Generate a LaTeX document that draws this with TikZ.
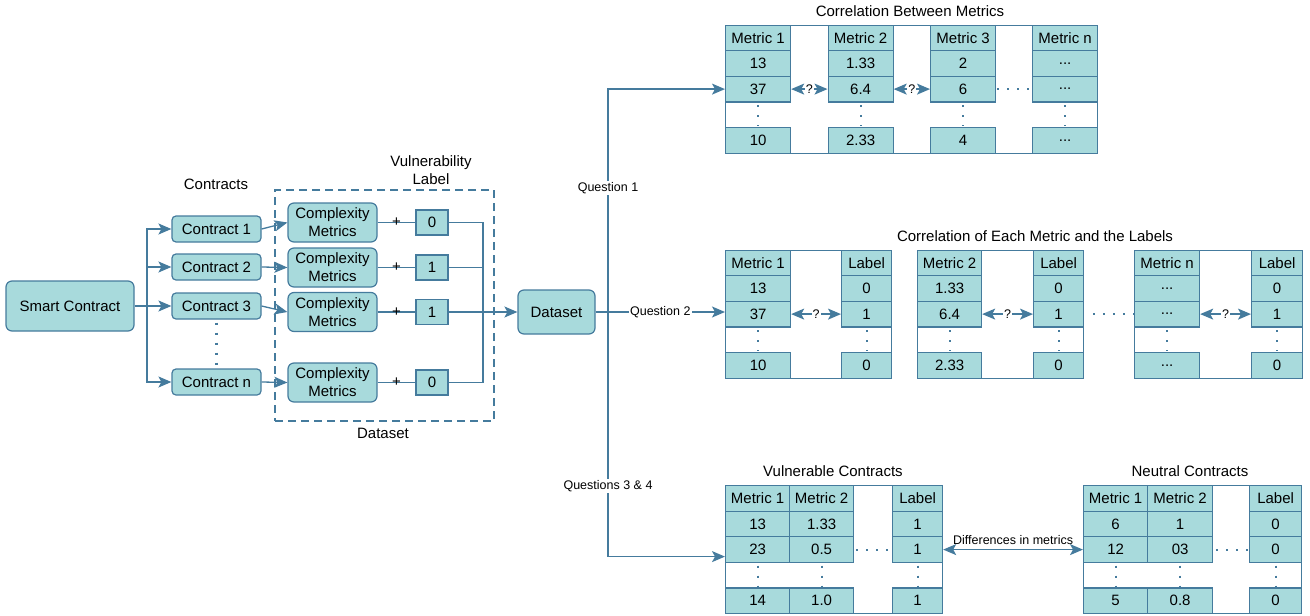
\documentclass[tikz,border=0pt]{standalone}
\usepackage{fontspec}
\setmainfont{Liberation Sans}
\usetikzlibrary{arrows.meta,calc}
\definecolor{fillc}{HTML}{A8DADC}
\definecolor{strokec}{HTML}{457B9D}
\newcommand{\mainfs}{\fontsize{15}{18}\selectfont}
\newcommand{\smallfs}{\fontsize{12.5}{15}\selectfont}
\tikzset{
 tip/.tip={Stealth[length=13pt,width=11pt,inset=3pt]},
 box/.style={draw=strokec, fill=fillc, line width=1.2pt, rounded corners=6pt, inner sep=0pt, font=\mainfs, align=center},
 cell/.style={draw=strokec, fill=fillc, line width=1.2pt, inner sep=0pt, minimum height=25.6pt, font=\mainfs, anchor=north west},
 tframe/.style={draw=strokec, line width=1.2pt, fill=white, inner sep=0pt, anchor=north west, minimum height=128pt},
 conn/.style={draw=strokec, line width=1.3pt},
 arr/.style={conn, -tip},
 darr/.style={conn, tip-tip},
 dotl/.style={draw=strokec, line width=2.2pt, dash pattern=on 2.2pt off 7.8pt},
 ttl/.style={font=\mainfs, inner sep=1pt},
 smalllbl/.style={font=\smallfs, fill=white, inner sep=1pt},
 plus/.style={font=\mainfs, inner sep=0pt},
}
% name, xleft, width, ytop, header, v1, v2, v3
\newcommand{\tcol}[8]{%
 \node[cell, minimum width=#3pt] (#1h) at (#2,#4) {#5};
 \node[cell, minimum width=#3pt] (#1a) at (#2,#4+25.6) {#6};
 \node[cell, minimum width=#3pt] (#1b) at (#2,#4+51.2) {#7};
 \node[cell, minimum width=#3pt] (#1c) at (#2,#4+102.4) {#8};
 \draw[dotl] ($(#1b.south)+(0,2.5)$) -- ($(#1c.north)+(0,-1)$);
}
\begin{document}
\begin{tikzpicture}[x=1pt,y=-1pt]
\useasboundingbox (0,0) rectangle (1310,616);

% ---------- left part ----------
\node[box, minimum width=128pt, minimum height=50pt] (sc) at (70,306) {Smart Contract};
\node[ttl] (lblc) at (216,184) {Contracts};
\node[box, rounded corners=4pt, minimum width=89pt, minimum height=26pt] (c1) at (216.5,229) {Contract 1};
\node[box, rounded corners=4pt, minimum width=89pt, minimum height=26pt] (c2) at (216.5,267) {Contract 2};
\node[box, rounded corners=4pt, minimum width=89pt, minimum height=26pt] (c3) at (216.5,306) {Contract 3};
\node[box, rounded corners=4pt, minimum width=89pt, minimum height=26pt] (cn) at (216.5,382) {Contract n};
\draw[dotl] ($(c3.south)+(0,3)$) -- (cn.north);

\coordinate (br) at (147,306);
\draw[conn] (sc.east) -- (br);
\draw[arr] (br) |- (c1.west);
\draw[arr] (br) |- (c2.west);
\draw[arr] (br) -- (c3.west);
\draw[arr] (br) |- (cn.west);

\node[draw=strokec, line width=2pt, dash pattern=on 8pt off 5pt, minimum width=219pt, minimum height=231pt, anchor=north west, inner sep=0pt] (dbox) at (274,189) {};
\node[ttl, align=center] (vl) at (431,170) {Vulnerability\\Label};
\node[ttl] (dsl) at (383,433) {Dataset};

\node[box, minimum width=89pt, minimum height=39pt] (cm1) at (332.5,222.5) {Complexity\\Metrics};
\node[box, minimum width=89pt, minimum height=39pt] (cm2) at (332.5,267.5) {Complexity\\Metrics};
\node[box, minimum width=89pt, minimum height=39pt] (cm3) at (332.5,312) {Complexity\\Metrics};
\node[box, minimum width=89pt, minimum height=39pt] (cm4) at (332.5,382.5) {Complexity\\Metrics};

\draw[arr] (c1.east) -- (cm1.west);
\draw[arr] (c2.east) -- (cm2.west);
\draw[arr] (c3.east) -- (cm3.west);
\draw[arr] (cn.east) -- (cm4.west);

\node[cell, anchor=center, minimum width=32pt, minimum height=25pt] (l1) at (432,222.5) {0};
\node[cell, anchor=center, minimum width=32pt, minimum height=25pt] (l2) at (432,267.5) {1};
\node[cell, anchor=center, minimum width=32pt, minimum height=25pt] (l3) at (432,312) {1};
\node[cell, anchor=center, minimum width=32pt, minimum height=25pt] (l4) at (432,382.5) {0};

\draw[conn] (cm1.east) -- (l1.west) node[midway, plus] {+};
\draw[conn] (cm2.east) -- (l2.west) node[midway, plus] {+};
\draw[conn] (cm3.east) -- (l3.west) node[midway, plus] {+};
\draw[conn] (cm4.east) -- (l4.west) node[midway, plus] {+};

\node[box, minimum width=77pt, minimum height=44pt] (ds) at (556.5,312) {Dataset};
\coordinate (jn) at (483,312);
\draw[conn] (l1.east) -| (jn);
\draw[conn] (l2.east) -| (jn);
\draw[conn] (l4.east) -| (jn);
\draw[arr] (l3.east) -- (ds.west);

% ---------- top table ----------
\node[ttl] (t1) at (910,11) {Correlation Between Metrics};
\node[tframe, minimum width=372pt] (T1) at (725,24.5) {};
\tcol{ta}{725}{65}{24.5}{Metric 1}{13}{37}{10}
\tcol{tb}{827.5}{65}{24.5}{Metric 2}{1.33}{6.4}{2.33}
\tcol{tc}{930}{65}{24.5}{Metric 3}{2}{6}{4}
\tcol{td}{1032}{65}{24.5}{Metric n}{...}{...}{...}
\draw[darr] (tab.east) -- (tbb.west) node[midway, smalllbl] {?};
\draw[darr] (tbb.east) -- (tcb.west) node[midway, smalllbl] {?};
\draw[dotl] ($(tcb.east)+(1,0)$) -- (tdb.west);

% ---------- middle tables ----------
\node[ttl] (t2) at (1035,236) {Correlation of Each Metric and the Labels};
\node[tframe, minimum width=166pt] (M1) at (725,249.5) {};
\node[tframe, minimum width=166pt] (M2) at (917,249.5) {};
\node[tframe, minimum width=168pt] (M3) at (1134,249.5) {};
\tcol{te}{725}{65}{249.5}{Metric 1}{13}{37}{10}
\tcol{tf}{841}{50}{249.5}{Label}{0}{1}{0}
\tcol{tg}{917}{64}{249.5}{Metric 2}{1.33}{6.4}{2.33}
\tcol{th}{1033}{50}{249.5}{Label}{0}{1}{0}
\tcol{ti}{1134}{65}{249.5}{Metric n}{...}{...}{...}
\tcol{tj}{1251}{51}{249.5}{Label}{0}{1}{0}
\draw[darr] (teb.east) -- (tfb.west) node[midway, smalllbl] {?};
\draw[darr] (tgb.east) -- (thb.west) node[midway, smalllbl] {?};
\draw[darr] (tib.east) -- (tjb.west) node[midway, smalllbl] {?};
\draw[dotl] ($(thb.east)+(9,0)$) -- (tib.west);

% ---------- bottom tables ----------
\node[ttl] (t3) at (833,471) {Vulnerable Contracts};
\node[ttl] (t4) at (1190,471) {Neutral Contracts};
\node[tframe, minimum width=217pt] (V1) at (725,485) {};
\node[tframe, minimum width=218pt] (N1) at (1083,485) {};
\tcol{tk}{725}{64}{485}{Metric 1}{13}{23}{14}
\tcol{tl}{789}{64}{485}{Metric 2}{1.33}{0.5}{1.0}
\tcol{tm}{892}{50}{485}{Label}{1}{1}{1}
\tcol{tn}{1083}{64}{485}{Metric 1}{6}{12}{5}
\tcol{to}{1147}{65}{485}{Metric 2}{1}{03}{0.8}
\tcol{tp}{1249}{52}{485}{Label}{0}{0}{0}
\draw[dotl] ($(tlb.east)+(2,0)$) -- (tmb.west);
\draw[dotl] ($(tob.east)+(3,0)$) -- (tpb.west);
\draw[darr] (tmb.east) -- (tnb.west) node[midway, above=3pt, font=\smallfs, inner sep=1pt] {Differences in metrics};

% ---------- dataset branches ----------
\coordinate (split) at (608,312);
\draw[arr] (ds.east) -- (ds.east -| teb.west) node[pos=0.5, smalllbl] {Question 2};
\draw[arr] (split) |- (tab.west);
\draw[arr] (split) |- ($(tkb.west)+(0,7)$);
\node[smalllbl] (q1) at (608,188) {Question 1};
\node[smalllbl] (q34) at (608,486) {Questions 3 \& 4};
\end{tikzpicture}
\end{document}
